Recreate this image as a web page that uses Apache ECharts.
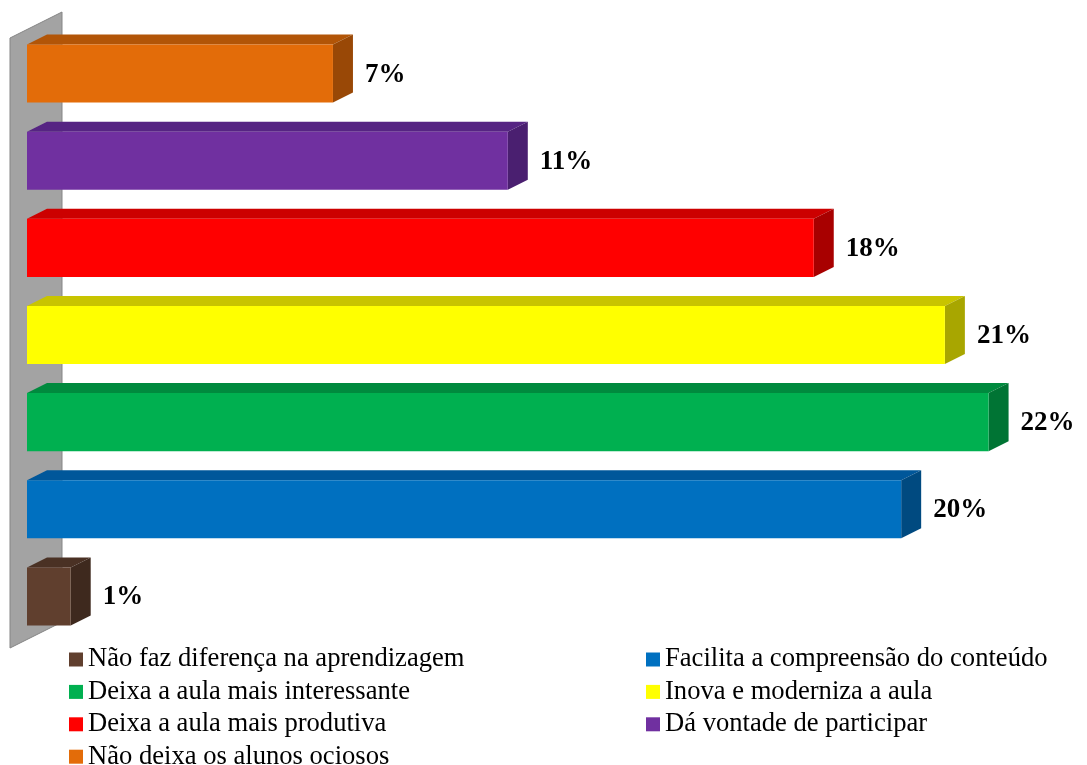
<!DOCTYPE html>
<html>
<head>
<meta charset="utf-8">
<script src="https://cdn.jsdelivr.net/npm/echarts@6/dist/echarts.min.js"></script>
<style>
  html, body { margin: 0; padding: 0; background: #ffffff; }
  #chart { width: 1087px; height: 765px; }
</style>
</head>
<body>
<div id="chart"></div>
<script>
// Categories listed from the bottom bar to the top bar
const categories = [
  'Não faz diferença na aprendizagem',
  'Facilita a compreensão do conteúdo',
  'Deixa a aula mais interessante',
  'Inova e moderniza a aula',
  'Deixa a aula mais produtiva',
  'Dá vontade de participar',
  'Não deixa os alunos ociosos'
];
const values = [1, 20, 22, 21, 18, 11, 7];

// Face colours of each 3D bar: front, top, side
const frontColors = ['#603F2E', '#0070C0', '#00B050', '#FFFF00', '#FF0000', '#7030A0', '#E36C09'];
const topColors   = ['#4A3124', '#00579A', '#008A3E', '#C8C400', '#CC0000', '#562483', '#B25507'];
const sideColors  = ['#3E291E', '#004A80', '#007434', '#A8A600', '#A80000', '#4A1F70', '#994806'];

// Legend columns (row-major order split into two columns)
const legendLeft  = [categories[0], categories[2], categories[4], categories[6]];
const legendRight = [categories[1], categories[3], categories[5]];

const DX = 20, DY = 10;          // depth offset of the 3D extrusion
const BAR_RATIO = 0.666;         // bar thickness relative to category band
const FONT = '"Liberation Serif", "Times New Roman", serif';

function barRenderer(i) {
  return function (params, api) {
    const cat = api.value(1);
    const base = api.coord([0, cat]);
    const end = api.coord([api.value(0), cat]);
    const band = api.size([0, 1])[1];
    const h = band * BAR_RATIO;
    const x0 = base[0], x1 = end[0];
    const yT = base[1] - h / 2, yB = base[1] + h / 2;
    return {
      type: 'group',
      children: [
        { type: 'polygon', shape: { points: [[x0, yT], [x0 + DX, yT - DY], [x1 + DX, yT - DY], [x1, yT]] },
          style: { fill: topColors[i] } },
        { type: 'polygon', shape: { points: [[x1, yT], [x1 + DX, yT - DY], [x1 + DX, yB - DY], [x1, yB]] },
          style: { fill: sideColors[i] } },
        { type: 'rect', shape: { x: x0, y: yT, width: x1 - x0, height: h },
          style: { fill: frontColors[i] } },
        { type: 'text', x: x1 + DX + 12, y: base[1] + 1,
          style: { text: api.value(0) + '%', fill: '#000', font: 'bold 27px ' + FONT,
                   textAlign: 'left', textVerticalAlign: 'middle' } }
      ]
    };
  };
}

// Grey side wall behind the bars
const series = [{
  type: 'custom',
  name: 'wall',
  silent: true,
  data: [[0, 0]],
  encode: { x: 0, y: 1 },
  z: 1,
  renderItem: function (params, api) {
    const cs = params.coordSys;
    const lx = cs.x - 17, rx = cs.x + 35;
    const top = cs.y + 8, bot = cs.y + cs.height + 8;
    return {
      type: 'polygon',
      shape: { points: [[lx, top], [rx, top - 26], [rx, bot - 26], [lx, bot]] },
      style: { fill: '#A3A3A3', stroke: '#858585', lineWidth: 1 }
    };
  }
}];

categories.forEach(function (name, i) {
  series.push({
    type: 'custom',
    name: name,
    data: [[values[i], i]],
    encode: { x: 0, y: 1 },
    itemStyle: { color: frontColors[i] },
    z: 2,
    renderItem: barRenderer(i)
  });
});

const legendCommon = {
  orient: 'vertical',
  icon: 'rect',
  itemWidth: 14,
  itemHeight: 14,
  itemGap: 5.4,
  padding: 0,
  height: 140,
  selectedMode: false,
  textStyle: { fontFamily: FONT, fontSize: 26.6, color: '#000' }
};

const chart = echarts.init(document.getElementById('chart'), null, { renderer: 'canvas' });
chart.setOption({
  backgroundColor: '#ffffff',
  animation: false,
  grid: { left: 27, top: 30, height: 610, right: 11 },
  xAxis: { type: 'value', min: 0, max: 24, show: false },
  yAxis: { type: 'category', data: categories, show: false },
  legend: [
    Object.assign({}, legendCommon, { data: legendLeft, left: 69, top: 646 }),
    Object.assign({}, legendCommon, { data: legendRight, left: 646, top: 646 })
  ],
  series: series
});
</script>
</body>
</html>
